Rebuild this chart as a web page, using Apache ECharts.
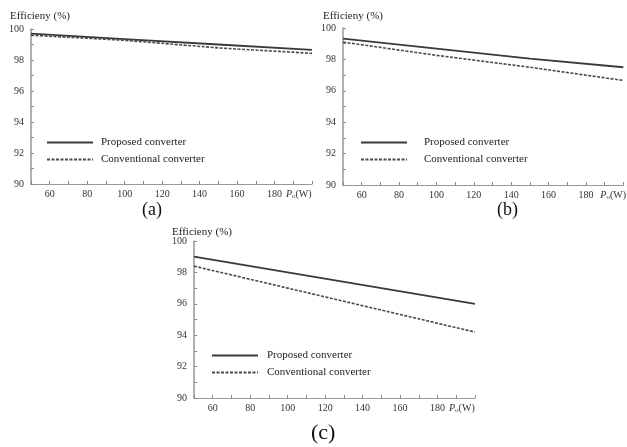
<!DOCTYPE html>
<html>
<head>
<meta charset="utf-8">
<script src="https://cdn.jsdelivr.net/npm/echarts@6/dist/echarts.min.js"></script>
<style>
  html, body { margin: 0; padding: 0; background: #fff; }
  #chart { width: 627px; height: 447px; }
</style>
</head>
<body>
<div id="chart"></div>
<script>
// output power (W) where the curves were read
var power = [50, 100, 150, 200];

// efficiency (%)
var proposedA = [99.70, 99.35, 99.00, 98.65];
var conventionalA = [99.60, 99.27, 98.78, 98.43];
var proposedB = [99.32, 98.68, 98.05, 97.50];
var conventionalB = [99.10, 98.26, 97.50, 96.66];
var proposedC = [99.00, 98.00, 97.00, 96.00];
var conventionalC = [98.40, 97.00, 95.60, 94.20];

var panelLabels = ["(a)", "(b)", "(c)"];
var seriesNames = ["Proposed converter", "Conventional converter"];
var yTitle = "Efficieny (%)";

var font = "Liberation Serif";

function pairs(ys) {
    return power.map(function (p, i) { return [p, ys[i]]; });
}

var grids = [
    { left: 31, top: 29, width: 281, height: 155 },
    { left: 343, top: 28, width: 283, height: 157 },
    { left: 194, top: 241, width: 281, height: 157 },
];
var nameGaps = [-31, -23, -26];

var xAxes = grids.map(function (g, i) {
    return {
        type: "value",
        gridIndex: i,
        min: 50,
        max: 200,
        interval: 10,
        name: "{i|P}{s|o}(W)",
        nameLocation: "end",
        nameGap: nameGaps[i],
        nameTextStyle: {
            verticalAlign: "top",
            padding: [5, 0, 0, 0],
            color: "#333",
            fontFamily: font,
            fontSize: 10,
            rich: {
                i: { fontStyle: "italic", fontFamily: font, fontSize: 10, color: "#333" },
                s: { fontFamily: font, fontSize: 7, color: "#333", verticalAlign: "bottom", padding: [4, 0, 0, 0] },
            },
        },
        axisLine: { lineStyle: { color: "#999", width: 1.2 } },
        axisTick: { inside: true, length: 3, lineStyle: { color: "#888" } },
        splitLine: { show: false },
        axisLabel: {
            margin: 5,
            color: "#333",
            fontFamily: font,
            fontSize: 10,
            formatter: function (v) {
                return (v >= 60 && v <= 180 && v % 20 === 0) ? String(v) : "";
            },
        },
    };
});

var yAxes = grids.map(function (g, i) {
    return {
        type: "value",
        gridIndex: i,
        min: 90,
        max: 100,
        interval: 1,
        axisLine: { show: true, lineStyle: { color: "#999", width: 1.5 } },
        axisTick: { show: true, inside: true, length: 3, lineStyle: { color: "#888" } },
        splitLine: { show: false },
        axisLabel: {
            margin: 7,
            color: "#333",
            fontFamily: font,
            fontSize: 10,
            formatter: function (v) { return v % 2 === 0 ? String(v) : ""; },
        },
    };
});

var solid = { color: "#3a3a3a", width: 1.8, type: "solid" };
var dashed = { color: "#4a4a4a", width: 1.6, type: [3, 1.5] };

var data = [
    [proposedA, conventionalA],
    [proposedB, conventionalB],
    [proposedC, conventionalC],
];

var series = [];
data.forEach(function (pair, i) {
    series.push({
        type: "line", name: seriesNames[0], xAxisIndex: i, yAxisIndex: i,
        data: pairs(pair[0]), symbol: "none", lineStyle: solid, itemStyle: { color: solid.color },
        silent: true, animation: false,
    });
    series.push({
        type: "line", name: seriesNames[1], xAxisIndex: i, yAxisIndex: i,
        data: pairs(pair[1]), symbol: "none", lineStyle: dashed, itemStyle: { color: dashed.color },
        silent: true, animation: false,
    });
});

var legendPos = [
    { left: 46, top: 137, pad: 3 },
    { left: 360, top: 137, pad: 12 },
    { left: 211, top: 350, pad: 4 },
];
var legends = legendPos.map(function (p) {
    return {
        data: seriesNames,
        orient: "vertical",
        left: p.left,
        top: p.top,
        padding: 0,
        itemWidth: 46,
        itemHeight: 12,
        itemGap: 6,
        selectedMode: false,
        itemStyle: { opacity: 0 },
        textStyle: { fontFamily: font, fontSize: 11, color: "#222", padding: [0, 0, 0, p.pad] },
    };
});

var titleStyle = { fontFamily: font, fontSize: 11, fontWeight: "normal", color: "#222" };
var titles = [
    { text: yTitle, left: 10, top: 11, padding: 0, textStyle: titleStyle },
    { text: yTitle, left: 323, top: 11, padding: 0, textStyle: titleStyle },
    { text: yTitle, left: 172, top: 227, padding: 0, textStyle: titleStyle },
    { text: panelLabels[0], left: 142, top: 201, padding: 0,
      textStyle: { fontFamily: font, fontSize: 18, fontWeight: "normal", color: "#111" } },
    { text: panelLabels[1], left: 497, top: 201, padding: 0,
      textStyle: { fontFamily: font, fontSize: 18, fontWeight: "normal", color: "#111" } },
    { text: panelLabels[2], left: 311, top: 422, padding: 0,
      textStyle: { fontFamily: font, fontSize: 22, fontWeight: "normal", color: "#111" } },
];

var chart = echarts.init(document.getElementById("chart"));
chart.setOption({
    backgroundColor: "#fff",
    animation: false,
    title: titles,
    legend: legends,
    grid: grids,
    xAxis: xAxes,
    yAxis: yAxes,
    series: series,
});
</script>
</body>
</html>
